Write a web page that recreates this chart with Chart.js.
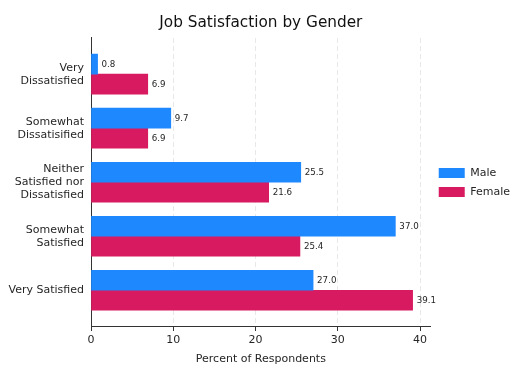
<!DOCTYPE html>
<html>
<head>
<meta charset="utf-8">
<script src="https://cdn.jsdelivr.net/npm/chart.js@4.4.1/dist/chart.umd.min.js"></script>
<style>
  html, body { margin: 0; padding: 0; background: #fff; }
  #wrap { width: 528px; height: 384px; }
</style>
</head>
<body>
<div id="wrap"><canvas id="chart" width="528" height="384"></canvas></div>
<script>
// data
var categories = [
  ["Very", "Dissatisfied"],
  ["Somewhat", "Dissatisified"],
  ["Neither", "Satisfied nor", "Dissatisfied"],
  ["Somewhat", "Satisfied"],
  ["Very Satisfied"]
];
var maleValues = [0.8, 9.7, 25.5, 37.0, 27.0];
var femaleValues = [6.9, 6.9, 21.6, 25.4, 39.1];
var xTicks = [0, 10, 20, 30, 40];

var FONT = "'DejaVu Sans', sans-serif";
var TEXT = "#262626";

function toPoints( values ) {
  return values.map( function( v, i ) { return { x: v, y: i }; } );
}

// prints the value at the end of each bar
var valueLabels = {
  id: "valueLabels",
  afterDatasetsDraw: function( chart ) {
    var ctx = chart.ctx;
    ctx.save();
    ctx.font = "8.7px " + FONT;
    ctx.fillStyle = TEXT;
    ctx.textAlign = "left";
    ctx.textBaseline = "middle";
    chart.data.datasets.forEach( function( ds, di ) {
      var meta = chart.getDatasetMeta( di );
      meta.data.forEach( function( bar, i ) {
        ctx.fillText( ds.data[ i ].x.toFixed( 1 ), bar.x + 4, bar.y + 0.5 );
      } );
    } );
    ctx.restore();
  }
};

new Chart( document.getElementById( "chart" ), {
  type: "bar",
  data: {
    datasets: [
      { label: "Male", data: toPoints( maleValues ), backgroundColor: "#1E88FF", barThickness: 20 },
      { label: "Female", data: toPoints( femaleValues ), backgroundColor: "#D81B60", barThickness: 20 }
    ]
  },
  options: {
    indexAxis: "y",
    responsive: false,
    animation: false,
    layout: { padding: { left: 0, right: 8, top: 0, bottom: 0 } },
    scales: {
      x: {
        type: "linear",
        min: 0,
        max: 41.3,
        afterBuildTicks: function( axis ) {
          axis.ticks = xTicks.map( function( v ) { return { value: v }; } );
        },
        afterFit: function( axis ) { axis.height = 57; },
        ticks: { color: TEXT, font: { family: FONT, size: 11 }, padding: 3 },
        grid: { color: "#e8e8e8", tickColor: "#333", tickLength: 4, lineWidth: 1 },
        border: { color: "#333", width: 1, dash: [5, 3] },
        title: {
          display: true,
          text: "Percent of Respondents",
          color: TEXT,
          font: { family: FONT, size: 11 },
          padding: { top: 0, bottom: 18 }
        }
      },
      y: {
        type: "linear",
        reverse: true,
        offset: false,
        bounds: "data",
        min: -0.67,
        max: 4.68,
        afterBuildTicks: function( axis ) {
          axis.ticks = categories.map( function( c, i ) { return { value: i }; } );
        },
        afterFit: function( axis ) { axis.width = 91; },
        ticks: {
          color: TEXT,
          font: { family: FONT, size: 11, lineHeight: 1.18 },
          padding: 7,
          callback: function( v ) { return categories[ v ]; }
        },
        grid: { display: false, drawTicks: false, offset: false },
        border: { color: "#333", width: 1 }
      }
    },
    plugins: {
      title: {
        display: true,
        text: "Job Satisfaction by Gender",
        color: "#111",
        fullSize: false,
        font: { family: FONT, size: 15.3, weight: "normal" },
        padding: { top: 14.3, bottom: 5.3 }
      },
      legend: {
        position: "right",
        fullSize: false,
        labels: {
          boxWidth: 26,
          boxHeight: 10,
          color: TEXT,
          font: { family: FONT, size: 11 },
          padding: 8
        }
      },
      tooltip: { enabled: false }
    }
  },
  plugins: [ valueLabels ]
} );
</script>
</body>
</html>
